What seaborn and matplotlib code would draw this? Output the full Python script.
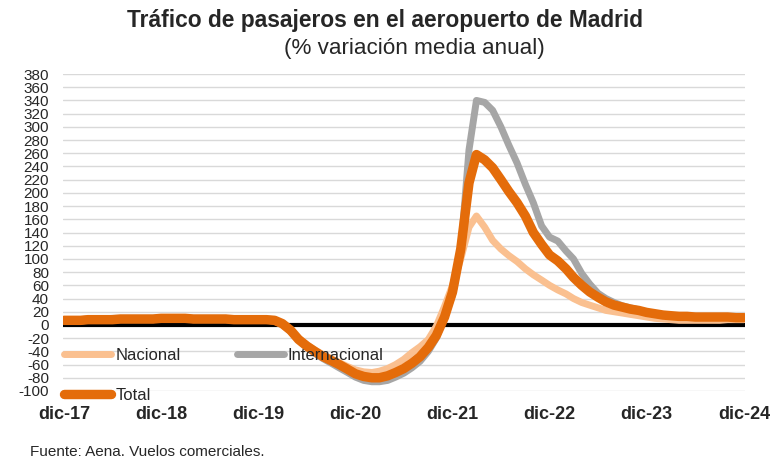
import pandas as pd
import matplotlib
matplotlib.use("Agg")
import matplotlib.pyplot as plt
import seaborn as sns

# ---- datos (% variación media anual, mensual dic-17 .. dic-24) ----
fechas = pd.date_range("2017-12-01", "2024-12-01", freq="MS")

nacional = [6, 6, 6, 7, 7, 7, 7, 8, 8, 8, 8, 8,
            9, 9, 9, 9, 8, 8, 8, 8, 8, 7, 7, 7,
            7, 7, 6, 0, -10, -20, -30, -38, -45, -51, -57, -63,
            -68, -71, -72, -70, -66, -60, -52, -42, -33, -22, -2, 28,
            60, 100, 148, 165, 148, 128, 115, 105, 96, 85, 76, 68,
            60, 53, 47, 40, 34, 30, 26, 22, 20, 18, 16, 14,
            12, 10, 9, 8, 7, 7, 7, 7, 7, 7, 8, 8,
            8]

internacional = [8, 8, 8, 9, 9, 9, 10, 10, 10, 10, 10, 10,
                 11, 11, 11, 11, 10, 10, 10, 10, 10, 9, 9, 9,
                 9, 9, 8, 1, -10, -23, -34, -43, -51, -58, -65, -72,
                 -79, -84, -86, -86, -84, -79, -73, -65, -55, -40, -20, 12,
                 45, 110, 265, 340, 337, 325, 300, 272, 245, 213, 185, 150,
                 133, 127, 112, 100, 78, 62, 48, 40, 34, 29, 26, 23,
                 19, 17, 15, 14, 13, 13, 13, 12, 12, 12, 12, 12,
                 12]

total = [7, 7, 7, 8, 8, 8, 8, 9, 9, 9, 9, 9,
         10, 10, 10, 10, 9, 9, 9, 9, 9, 8, 8, 8,
         8, 8, 7, 2, -8, -22, -32, -40, -48, -54, -60, -67,
         -74, -78, -80, -80, -77, -72, -66, -58, -48, -34, -16, 12,
         50, 115, 215, 258, 250, 238, 220, 202, 185, 165, 140, 122,
         106, 97, 85, 72, 60, 50, 42, 35, 30, 27, 24, 22,
         19, 17, 15, 14, 13, 13, 12, 12, 12, 12, 12, 11,
         11]

series = ["Nacional", "Internacional", "Total"]
valores = [nacional, internacional, total]
colores = {"Nacional": "#FAC090", "Internacional": "#A6A6A6", "Total": "#E46C0A"}
grosor = {"Nacional": 5.0, "Internacional": 5.0, "Total": 6.8}

df = pd.concat([pd.DataFrame({"fecha": fechas, "valor": v, "serie": s})
                for s, v in zip(series, valores)], ignore_index=True)

yticks = list(range(-100, 381, 20))

# ---- estilo ----
sns.set_theme(style="white")
plt.rcParams["font.family"] = ["Liberation Sans", "DejaVu Sans"]
plt.rcParams["axes.unicode_minus"] = False

fig = plt.figure(figsize=(7.74, 4.62), dpi=100)
ax = fig.add_axes([0.0814, 0.1537, 0.8811, 0.6861])

for s in series:
    sns.lineplot(data=df[df["serie"] == s], x="fecha", y="valor",
                 color=colores[s], linewidth=grosor[s], label=s, ax=ax,
                 solid_capstyle="round", solid_joinstyle="round", zorder=3)

ax.axhline(0, color="black", linewidth=3, zorder=2)
ax.set_ylim(-100, 380)
ax.set_yticks(yticks)
ax.set_xlim(fechas[0] - pd.Timedelta(days=4), fechas[-1] + pd.Timedelta(days=4))
ax.yaxis.grid(True, color="#D9D9D9", linewidth=1, zorder=0)
ax.xaxis.grid(False)
for sp in ax.spines.values():
    sp.set_visible(False)

ticks_x = [pd.Timestamp(f"{a}-12-01") for a in range(2017, 2025)]
ax.set_xticks(ticks_x)
ax.set_xticklabels([f"dic-{str(a)[2:]}" for a in range(2017, 2025)],
                   fontsize=13, fontweight="bold")
ax.tick_params(axis="y", labelsize=11, pad=10, length=0)
ax.tick_params(axis="x", pad=11, length=0)
ax.set_xlabel("")
ax.set_ylabel("")

h, l = ax.get_legend_handles_labels()
orden = [0, 2, 1]
leg = ax.legend([h[i] for i in orden], [l[i] for i in orden], ncol=2,
                loc="lower left", bbox_to_anchor=(-0.02, -0.085),
                frameon=False, fontsize=12, handlelength=2.8,
                handletextpad=0.25, columnspacing=3.4, labelspacing=1.5)
for ln in leg.get_lines():
    ln.set_solid_capstyle("round")

fig.text(0.497, 0.955, "Tráfico de pasajeros en el aeropuerto de Madrid",
         ha="center", va="center", fontsize=16.4, fontweight="bold")
fig.text(0.536, 0.895, "(% variación media anual)",
         ha="center", va="center", fontsize=16.2)
fig.text(0.039, 0.022, "Fuente: Aena. Vuelos comerciales.",
         ha="left", va="center", fontsize=11)

fig.savefig("out.png", dpi=100)
